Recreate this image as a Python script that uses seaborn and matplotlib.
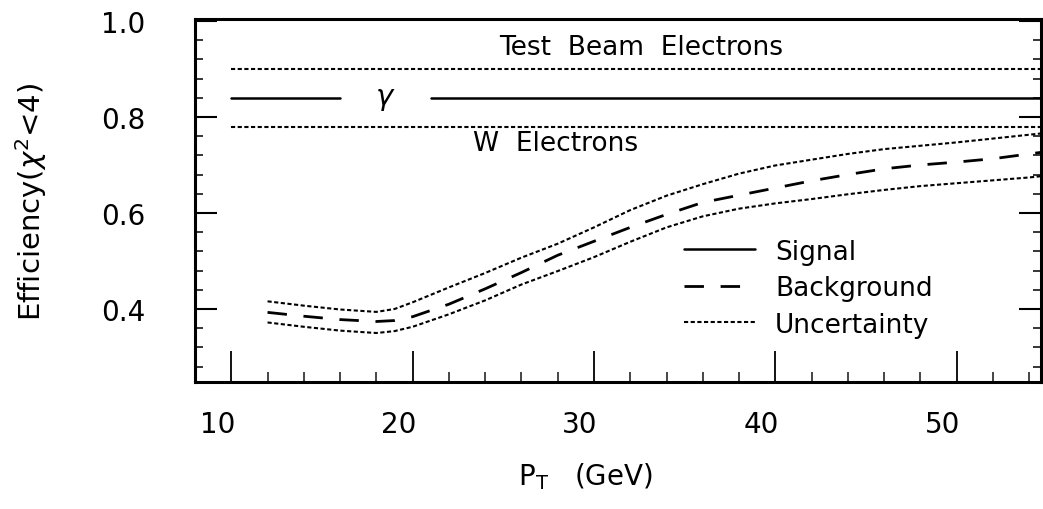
import numpy as np
import pandas as pd
import matplotlib
matplotlib.use("Agg")
import matplotlib.pyplot as plt
from matplotlib.lines import Line2D
from matplotlib.ticker import MultipleLocator
from matplotlib.transforms import ScaledTranslation
import seaborn as sns

# Transverse momentum grid (GeV)
pt = [12, 14, 16, 18, 19, 20, 22, 24, 26, 28, 30, 32, 34, 36, 38, 40,
      42, 44, 46, 48, 50, 52, 54, 55]

# Background efficiency and its uncertainty band
background = [0.393, 0.385, 0.378, 0.374, 0.376, 0.384, 0.410, 0.442, 0.476,
              0.512, 0.541, 0.570, 0.597, 0.622, 0.637, 0.652, 0.667, 0.680,
              0.692, 0.700, 0.706, 0.713, 0.723, 0.728]
band_upper = [0.416, 0.407, 0.399, 0.394, 0.400, 0.414, 0.445, 0.475, 0.507,
              0.536, 0.570, 0.606, 0.636, 0.660, 0.682, 0.699, 0.711, 0.723,
              0.733, 0.740, 0.747, 0.755, 0.763, 0.767]
band_lower = [0.372, 0.363, 0.355, 0.350, 0.354, 0.363, 0.389, 0.418, 0.451,
              0.479, 0.508, 0.540, 0.570, 0.593, 0.609, 0.620, 0.629, 0.639,
              0.648, 0.656, 0.662, 0.668, 0.674, 0.678]

# Reference efficiencies (flat in pT)
testbeam_eff = 0.90
gamma_eff = 0.84
w_eff = 0.78
ref_x = [10, 55]
gamma_segments = [(10, 16), (21, 55)]

x_ticks = [10, 20, 30, 40, 50]
y_ticks = [0.4, 0.6, 0.8, 1.0]

sns.set_theme(style="white")
plt.rcParams["font.family"] = ["DejaVu Sans"]
plt.rcParams["text.color"] = "black"

fig = plt.figure(figsize=(10.43, 5.10), dpi=100)
ax = fig.add_axes([195 / 1043, 1 - 383 / 510, 846 / 1043, 363 / 510])

df = pd.DataFrame({"pt": pt, "bkg": background,
                   "hi": band_upper, "lo": band_lower})

dot = (0, (2.0, 1.2))
dash = (0, (7, 6))

sns.lineplot(data=df, x="pt", y="hi", ax=ax, color="black", lw=1.5,
             linestyle=dot, legend=False)
sns.lineplot(data=df, x="pt", y="lo", ax=ax, color="black", lw=1.5,
             linestyle=dot, legend=False)
sns.lineplot(data=df, x="pt", y="bkg", ax=ax, color="black", lw=2.0,
             linestyle=dash, legend=False)

# Flat reference lines
sns.lineplot(x=ref_x, y=[testbeam_eff] * 2, ax=ax, color="black", lw=1.5,
             linestyle=dot, legend=False)
sns.lineplot(x=ref_x, y=[w_eff] * 2, ax=ax, color="black", lw=1.5,
             linestyle=dot, legend=False)
for x0, x1 in gamma_segments:
    sns.lineplot(x=[x0, x1], y=[gamma_eff] * 2, ax=ax, color="black",
                 lw=1.8, legend=False)

ax.text(32.6, 0.946, "Test  Beam  Electrons", fontsize=19, ha="center",
        va="center", color="black")
ax.text(27.9, 0.746, "W  Electrons", fontsize=19, ha="center", va="center",
        color="black")
ax.text(18.45, gamma_eff + 0.004, "γ", fontsize=21, ha="center", va="center",
        color="black", style="italic")

ax.set_xlim(8, 54.65)
ax.set_ylim(0.248, 1.004)
ax.set_xticks(x_ticks)
ax.set_yticks(y_ticks)
ax.set_xticklabels([str(v) for v in x_ticks])
ax.set_yticklabels([f"{v:.1f}" for v in y_ticks])
ax.xaxis.set_minor_locator(MultipleLocator(2))
ax.yaxis.set_minor_locator(MultipleLocator(0.04))

ax.tick_params(axis="x", which="major", direction="in", length=22, width=1.3,
               labelsize=20, pad=20, colors="black", bottom=True, top=False)
ax.tick_params(axis="x", which="minor", direction="in", length=7, width=1.2,
               bottom=True, top=False)
ax.tick_params(axis="y", which="major", direction="in", length=16, width=1.5,
               labelsize=20, pad=36, colors="black", left=True, right=True)
ax.tick_params(axis="y", which="minor", direction="in", length=6, width=1.3,
               left=True, right=True)

for lab in ax.get_xticklabels():
    lab.set_transform(lab.get_transform()
                      + ScaledTranslation(-14 / 100, 0, fig.dpi_scale_trans))

for side in ["left", "bottom", "top", "right"]:
    ax.spines[side].set_visible(True)
    ax.spines[side].set_color("black")
    ax.spines[side].set_linewidth(2.2)

ax.set_xlabel(r"P$\mathregular{_T}$   (GeV)", fontsize=20, color="black")
ax.xaxis.set_label_coords(0.462, -0.215)
ax.set_ylabel(r"Efficiency($\chi^2$<4)", fontsize=21, color="black")
ax.yaxis.set_label_coords(-0.172, 0.5)

handles = [
    Line2D([], [], color="black", lw=1.8),
    Line2D([], [], color="black", lw=2.0, linestyle=dash),
    Line2D([], [], color="black", lw=1.5, linestyle=dot),
]
ax.legend(handles, ["Signal", "Background", "Uncertainty"], loc="upper left",
          bbox_to_anchor=(0.578, 0.395), frameon=False, fontsize=19,
          handlelength=2.7, handletextpad=0.75, labelspacing=0.4,
          borderpad=0, borderaxespad=0, labelcolor="black")

fig.savefig("out.png", dpi=100, facecolor="white")
